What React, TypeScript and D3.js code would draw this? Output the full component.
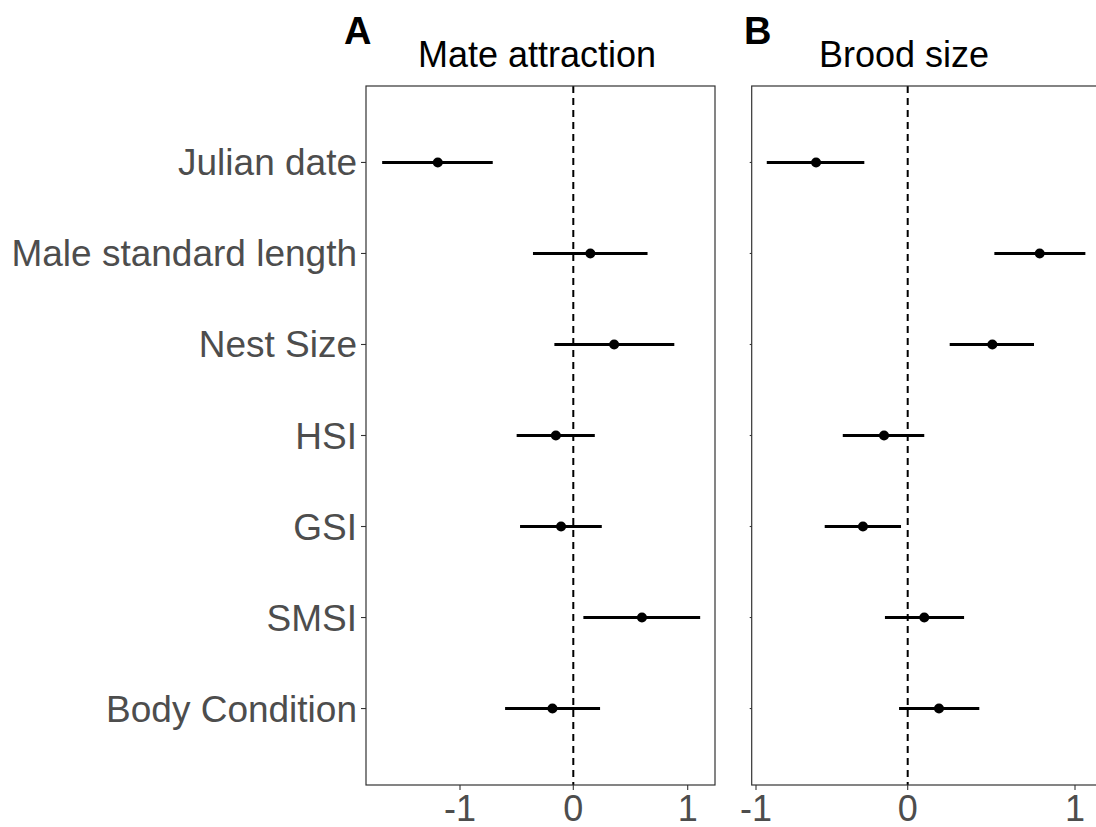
import React from "react";
import * as d3 from "d3";

const categories = [
  "Julian date",
  "Male standard length",
  "Nest Size",
  "HSI",
  "GSI",
  "SMSI",
  "Body Condition",
];

const mateEst = [-1.196, 0.149, 0.357, -0.154, -0.108, 0.6, -0.184];
const mateLo = [-1.687, -0.356, -0.167, -0.5, -0.47, 0.088, -0.602];
const mateHi = [-0.711, 0.649, 0.883, 0.188, 0.249, 1.109, 0.234];

const broodEst = [-0.604, 0.789, 0.506, -0.156, -0.295, 0.099, 0.187];
const broodLo = [-0.929, 0.518, 0.251, -0.428, -0.547, -0.15, -0.057];
const broodHi = [-0.286, 1.062, 0.755, 0.099, -0.044, 0.337, 0.428];

const xTicks = [-1, 0, 1];

const TOP = 86;
const BOTTOM = 785;
const FONT = "'Liberation Sans', Arial, Helvetica, sans-serif";

function Panel({
  x,
  est,
  lo,
  hi,
  left,
  right,
  showLabels,
  yTickLen,
}: {
  x: d3.ScaleLinear<number, number>;
  est: number[];
  lo: number[];
  hi: number[];
  left: number;
  right: number;
  showLabels: boolean;
  yTickLen: number;
}) {
  const y = d3.scalePoint<string>().domain(categories).range([TOP, BOTTOM]).padding(0.84);
  return (
    <g>
      {categories.map((c) => (
        <g key={c}>
          <line x1={left - yTickLen} x2={left} y1={y(c)} y2={y(c)} stroke="#333" strokeWidth={1.1} />
          {showLabels && (
            <text
              x={left - yTickLen - 4}
              y={y(c)! + 13}
              textAnchor="end"
              fontFamily={FONT}
              fontSize={37}
              fill="#4d4d4d"
            >
              {c}
            </text>
          )}
        </g>
      ))}
      <line x1={x(0)} x2={x(0)} y1={TOP} y2={BOTTOM} stroke="#000" strokeWidth={2} strokeDasharray="7,5" />
      {categories.map((c, i) => (
        <g key={"e" + c}>
          <line x1={x(lo[i])} x2={x(hi[i])} y1={y(c)} y2={y(c)} stroke="#000" strokeWidth={3} />
          <circle cx={x(est[i])} cy={y(c)} r={5} fill="#000" />
        </g>
      ))}
      <rect x={left} y={TOP} width={right - left} height={BOTTOM - TOP} fill="none" stroke="#333" strokeWidth={1.2} />
      {xTicks.map((t) => (
        <g key={"x" + t}>
          <line x1={x(t)} x2={x(t)} y1={BOTTOM} y2={BOTTOM + 5} stroke="#333" strokeWidth={1.1} />
          <text x={x(t)} y={BOTTOM + 36} textAnchor="middle" fontFamily={FONT} fontSize={36} fill="#4d4d4d">
            {t}
          </text>
        </g>
      ))}
    </g>
  );
}

export default function App() {
  const xA = d3.scaleLinear().domain([-1, 0, 1]).range([460, 573.3, 687.7]);
  const xB = d3.scaleLinear().domain([-1, 0, 1]).range([756, 907.7, 1075]);
  return (
    <svg
      width={1096}
      height={827}
      style={{ position: "absolute", left: 0, top: 0, background: "#fff" }}
    >
      <rect x={0} y={0} width={1096} height={827} fill="#fff" />
      <Panel x={xA} est={mateEst} lo={mateLo} hi={mateHi} left={366} right={715} showLabels yTickLen={5} />
      <Panel x={xB} est={broodEst} lo={broodLo} hi={broodHi} left={751.7} right={1110} showLabels={false} yTickLen={2} />
      <text x={344} y={44} fontFamily={FONT} fontWeight="bold" fontSize={38} fill="#000">A</text>
      <text x={744} y={44} fontFamily={FONT} fontWeight="bold" fontSize={38} fill="#000">B</text>
      <text x={537} y={67} textAnchor="middle" fontFamily={FONT} fontSize={36} fill="#000">Mate attraction</text>
      <text x={904} y={67} textAnchor="middle" fontFamily={FONT} fontSize={36} fill="#000">Brood size</text>
    </svg>
  );
}
